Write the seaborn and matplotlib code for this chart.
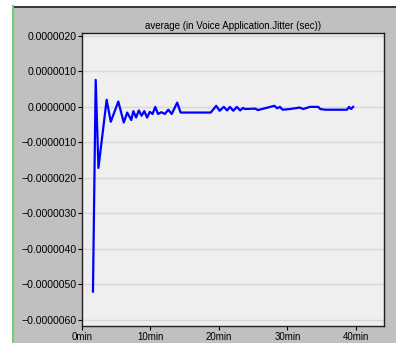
import numpy as np
import pandas as pd
import matplotlib
matplotlib.use("Agg")
import matplotlib.pyplot as plt
from matplotlib.patches import Rectangle
from matplotlib.lines import Line2D
from matplotlib.ticker import FuncFormatter
import seaborn as sns

# time in minutes, jitter average in units of 1e-6 sec
minutes = [1.6, 2.0, 2.4, 3.6, 4.2, 5.3, 6.1, 6.6, 7.2, 7.5, 7.9, 8.3, 8.7, 9.1,
           9.5, 9.9, 10.3, 10.7, 11.1, 11.6, 12.1, 12.6, 13.1, 13.9, 14.4, 18.8,
           19.6, 20.1, 20.7, 21.2, 21.6, 22.1, 22.6, 23.1, 23.5, 23.8, 25.3, 25.7,
           26.3, 28.1, 28.5, 28.9, 29.3, 30.4, 31.8, 32.3, 33.3, 34.5, 34.8, 35.5,
           38.7, 39.0, 39.3, 39.6]
jitter_e6 = [-5.2, 0.76, -1.72, 0.2, -0.42, 0.15, -0.44, -0.16, -0.37, -0.12, -0.3,
             -0.1, -0.25, -0.12, -0.3, -0.14, -0.2, 0.0, -0.2, -0.15, -0.2, -0.08,
             -0.2, 0.12, -0.16, -0.16, 0.03, -0.11, 0.0, -0.1, 0.0, -0.11, 0.0,
             -0.1, -0.03, -0.06, -0.05, -0.09, -0.06, 0.03, -0.04, 0.0, -0.08,
             -0.06, -0.02, -0.06, 0.0, 0.0, -0.06, -0.08, -0.08, 0.0, -0.06, 0.0]

x_ticks = [0, 10, 20, 30, 40]
x_labels = ["0min", "10min", "20min", "30min", "40min"]
y_ticks = [2e-6, 1e-6, 0, -1e-6, -2e-6, -3e-6, -4e-6, -5e-6, -6e-6]

df = pd.DataFrame({"t": minutes, "jitter": np.array(jitter_e6) * 1e-6})

plt.rcParams["font.family"] = ["Liberation Sans", "DejaVu Sans"]

W, H = 396, 343
fig = plt.figure(figsize=(W / 100, H / 100), dpi=100)
fig.patch.set_facecolor("white")

# gray window panel behind the axes
fig.patches.append(Rectangle((13 / W, 0), (W - 13) / W, (H - 6) / H,
                             transform=fig.transFigure, facecolor="#c0c0c0",
                             edgecolor="none", zorder=-10))
fig.lines.append(Line2D([13 / W, 1], [(H - 6.5) / H] * 2, transform=fig.transFigure,
                        color="#202020", lw=1.2, zorder=-5))
fig.lines.append(Line2D([13.5 / W] * 2, [0, (H - 6) / H], transform=fig.transFigure,
                        color="#70d070", lw=1.5, zorder=-5))

ax = fig.add_axes([82 / W, (H - 326) / H, (384 - 82) / W, (326 - 33) / H])
ax.set_facecolor("#efefef")

sns.lineplot(data=df, x="t", y="jitter", ax=ax, color="#0000ff", lw=1.6)

ax.set_xlim(0, 44.1)
ax.set_ylim(-6.17e-6, 2.08e-6)
ax.set_xticks(x_ticks)
ax.set_xticklabels(x_labels)
ax.set_yticks(y_ticks)
ax.yaxis.set_major_formatter(FuncFormatter(lambda v, p: f"{v:.7f}".replace("-", "\u2212")))
ax.yaxis.grid(True, color="#d8d8d8", lw=1)
ax.set_axisbelow(True)
ax.set_xlabel("")
ax.set_ylabel("")
ax.tick_params(labelsize=7, length=3, width=0.8, pad=1, colors="black")
ax.tick_params(axis="y", labelsize=7.6)
for s in ax.spines.values():
    s.set_color("#202020")
    s.set_linewidth(1)

ax.set_title("average (in Voice Application.Jitter (sec))", fontsize=7, pad=3)

fig.savefig("out.png", dpi=100)
